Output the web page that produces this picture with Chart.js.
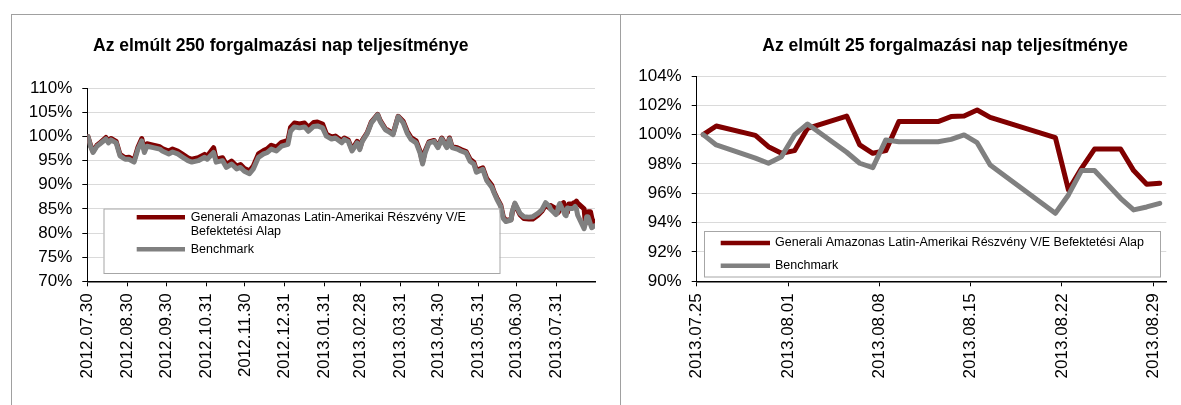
<!DOCTYPE html>
<html>
<head>
<meta charset="utf-8">
<script src="https://cdn.jsdelivr.net/npm/chart.js@4.4.1/dist/chart.umd.min.js"></script>
<style>
  html, body { margin: 0; padding: 0; background: #fff; }
  body { width: 1181px; height: 405px; position: relative; overflow: hidden; }
  .panel { position: absolute; top: 14px; height: 400px; border-top: 1px solid #a0a0a0; border-left: 1px solid #a0a0a0; }
  canvas { position: absolute; top: 15px; }
</style>
</head>
<body>
<div class="panel" style="left:11px; width:609px;"></div>
<div class="panel" style="left:620px; width:600px;"></div>
<canvas id="chart250" width="607" height="390" style="left:12px;"></canvas>
<canvas id="chart25" width="560" height="390" style="left:621px;"></canvas>
<script>
// --- data: last 250 trading days (value in %, start = 100%) ---
const leftDates = [
  '2012.07.30','2012.08.01','2012.08.03','2012.08.06','2012.08.08','2012.08.13','2012.08.15','2012.08.17','2012.08.21','2012.08.24',
  '2012.08.28','2012.08.31','2012.09.04','2012.09.07','2012.09.10','2012.09.12','2012.09.14','2012.09.19','2012.09.24','2012.09.26',
  '2012.10.01','2012.10.04','2012.10.08','2012.10.12','2012.10.16','2012.10.19','2012.10.24','2012.10.29','2012.10.31','2012.11.05',
  '2012.11.07','2012.11.12','2012.11.15','2012.11.19','2012.11.23','2012.11.26','2012.11.29','2012.12.03','2012.12.06','2012.12.10',
  '2012.12.14','2012.12.17','2012.12.20','2012.12.24','2012.12.28','2013.01.02','2013.01.04','2013.01.07','2013.01.11','2013.01.15',
  '2013.01.18','2013.01.22','2013.01.25','2013.01.29','2013.02.01','2013.02.05','2013.02.08','2013.02.13','2013.02.15','2013.02.18',
  '2013.02.21','2013.02.25','2013.02.27','2013.03.01','2013.03.05','2013.03.08','2013.03.13','2013.03.15','2013.03.19','2013.03.21',
  '2013.03.25','2013.03.29','2013.04.02','2013.04.05','2013.04.08','2013.04.12','2013.04.15','2013.04.17','2013.04.19','2013.04.22',
  '2013.04.26','2013.04.29','2013.05.02','2013.05.06','2013.05.08','2013.05.10','2013.05.14','2013.05.17','2013.05.21','2013.05.24',
  '2013.05.27','2013.05.29','2013.06.03','2013.06.06','2013.06.10','2013.06.12','2013.06.14','2013.06.17','2013.06.19','2013.06.21',
  '2013.06.25','2013.06.26','2013.06.28','2013.07.02','2013.07.05','2013.07.09','2013.07.12','2013.07.16','2013.07.19','2013.07.22',
  '2013.07.25','2013.07.26','2013.07.29','2013.07.30','2013.07.31','2013.08.01','2013.08.02','2013.08.05','2013.08.06','2013.08.07',
  '2013.08.08','2013.08.09','2013.08.12','2013.08.13','2013.08.14','2013.08.15','2013.08.16','2013.08.21','2013.08.22','2013.08.23',
  '2013.08.24','2013.08.26','2013.08.27','2013.08.28','2013.08.29'
];
const leftFund = [
  100.0, 98.2, 96.9, 98.2, 98.6, 99.8, 99.0, 99.6, 99.0, 96.3,
  95.6, 95.7, 95.1, 97.8, 99.6, 97.2, 98.5, 98.2, 97.9, 97.5,
  97.0, 97.4, 97.0, 96.3, 95.6, 95.3, 95.6, 96.3, 95.9, 97.7,
  95.3, 95.6, 94.2, 94.9, 93.9, 94.2, 93.4, 92.9, 93.9, 96.4,
  97.1, 97.5, 98.2, 97.8, 98.8, 99.2, 101.9, 102.8, 102.6, 102.8,
  101.9, 102.9, 103.0, 102.6, 100.5, 99.9, 100.1, 99.1, 99.7, 99.3,
  97.3, 99.0, 97.6, 99.2, 100.9, 103.0, 104.6, 103.3, 101.6, 101.3,
  100.6, 104.2, 103.1, 101.1, 99.8, 99.1, 97.0, 94.7, 97.0, 98.9,
  99.2, 97.9, 99.7, 97.9, 99.7, 97.9, 97.7, 97.3, 96.9, 95.3,
  94.7, 93.0, 93.5, 91.3, 89.9, 88.4, 87.3, 85.8, 83.3, 82.6,
  82.8, 84.3, 86.0, 83.8, 83.0, 82.9, 82.9, 83.7, 84.5, 85.8,
  85.2, 85.7, 85.2, 84.5, 84.1, 84.3, 85.6, 86.3, 84.6, 84.1,
  84.3, 86.0, 86.0, 86.3, 86.3, 86.6, 86.2, 85.0, 82.0, 83.2,
  84.4, 84.4, 83.1, 82.3, 82.4
];
const leftBench = [
  100.0, 98.0, 96.7, 98.0, 98.4, 99.5, 98.7, 99.3, 98.7, 96.0,
  95.3, 95.3, 94.7, 97.4, 99.1, 96.7, 98.0, 97.7, 97.4, 97.0,
  96.4, 96.8, 96.4, 95.7, 95.0, 94.7, 95.0, 95.7, 95.3, 96.7,
  94.7, 95.0, 93.6, 94.3, 93.3, 93.6, 92.8, 92.3, 93.3, 95.7,
  96.4, 96.7, 97.4, 97.0, 98.0, 98.4, 101.1, 102.0, 101.8, 102.0,
  101.1, 102.1, 102.2, 101.8, 100.1, 99.5, 99.7, 98.7, 99.4, 99.0,
  97.0, 98.7, 97.3, 99.0, 100.7, 102.8, 104.5, 103.1, 101.4, 101.1,
  100.4, 104.1, 102.8, 100.7, 99.4, 98.7, 96.6, 94.3, 96.6, 98.7,
  99.0, 97.7, 99.5, 97.7, 99.5, 97.7, 97.4, 97.0, 96.6, 94.9,
  94.3, 92.6, 93.2, 90.9, 89.5, 88.2, 87.0, 85.5, 83.0, 82.4,
  82.7, 84.5, 86.2, 84.1, 83.4, 83.3, 83.4, 84.1, 84.8, 86.3,
  85.5, 84.9, 84.1, 83.8, 84.2, 85.5, 86.1, 84.5, 83.8, 83.6,
  85.2, 85.1, 85.1, 85.2, 85.5, 85.0, 83.7, 80.9, 82.0, 83.4,
  83.4, 81.8, 81.1, 81.3, 81.5
];
const leftTicks = ['2012.07.30','2012.08.30','2012.09.30','2012.10.31','2012.11.30','2012.12.31',
  '2013.01.31','2013.02.28','2013.03.31','2013.04.30','2013.05.31','2013.06.30','2013.07.31'];

// --- data: last 25 trading days ---
const rightDates = ['2013.07.25','2013.07.26','2013.07.29','2013.07.30','2013.07.31','2013.08.01','2013.08.02',
  '2013.08.05','2013.08.06','2013.08.07','2013.08.08','2013.08.09','2013.08.12','2013.08.13','2013.08.14',
  '2013.08.15','2013.08.16','2013.08.21','2013.08.22','2013.08.23','2013.08.24','2013.08.26','2013.08.27',
  '2013.08.28','2013.08.29'];
const rightFund = [100.0, 100.59, 99.95, 99.18, 98.73, 98.91, 100.43, 101.27, 99.3, 98.73, 98.91, 100.89, 100.89,
  101.23, 101.27, 101.68, 101.18, 99.8, 96.23, 97.7, 99.02, 99.02, 97.55, 96.62, 96.69];
const rightBench = [100.0, 99.3, 98.4, 98.05, 98.5, 99.98, 100.73, 98.8, 98.05, 97.75, 99.64, 99.52, 99.52,
  99.68, 99.98, 99.45, 97.93, 94.64, 95.89, 97.55, 97.55, 95.66, 94.87, 95.07, 95.32];
const rightTicks = ['2013.07.25','2013.08.01','2013.08.08','2013.08.15','2013.08.22','2013.08.29'];

const axisEnd = '2013.08.30';
const fundName = 'Generali Amazonas Latin-Amerikai Részvény V/E Befektetési Alap';
const benchName = 'Benchmark';

const FONT = '"Liberation Sans", Arial, sans-serif';

function dayOf(s, base) {
  const [y, m, d] = s.split('.').map(Number);
  const [by, bm, bd] = base.split('.').map(Number);
  return (Date.UTC(y, m - 1, d) - Date.UTC(by, bm - 1, bd)) / 864e5;
}

// title + boxed legend drawn on top of the chart
const panelText = {
  id: 'panelText',
  afterDraw(chart, args, o) {
    const ctx = chart.ctx;
    ctx.save();
    ctx.fillStyle = '#000';
    ctx.font = 'bold 17.5px ' + FONT;
    ctx.textBaseline = 'alphabetic';
    ctx.textAlign = 'left';
    ctx.fillText(o.title, o.titleX, o.titleY);

    const b = o.box;
    ctx.fillStyle = '#fff';
    ctx.fillRect(b.x, b.y, b.w, b.h);
    ctx.strokeStyle = '#a6a6a6';
    ctx.lineWidth = 1;
    ctx.strokeRect(b.x + 0.5, b.y + 0.5, b.w, b.h);

    ctx.font = '12.5px ' + FONT;
    ctx.textBaseline = 'middle';
    const maxW = b.x + b.w - o.textX - 6;
    chart.data.datasets.forEach((ds, i) => {
      const y = o.rows[i];
      ctx.strokeStyle = ds.borderColor;
      ctx.lineWidth = 4.5;
      ctx.lineCap = 'butt';
      ctx.beginPath();
      ctx.moveTo(o.sample[0], y);
      ctx.lineTo(o.sample[1], y);
      ctx.stroke();
      // simple word wrap
      const words = ds.label.split(' ');
      const lines = [];
      let cur = '';
      words.forEach(w => {
        const t = cur ? cur + ' ' + w : w;
        if (cur && ctx.measureText(t).width > maxW) { lines.push(cur); cur = w; } else { cur = t; }
      });
      lines.push(cur);
      ctx.fillStyle = '#000';
      lines.forEach((ln, k) => ctx.fillText(ln, o.textX, y + k * o.lineGap));
    });
    ctx.restore();
  }
};

function makeChart(id, dates, fund, bench, ticks, yMin, yMax, yStep, area, text) {
  const base = ticks[0];
  const tickDays = ticks.map(t => dayOf(t, base));
  const pts = vals => dates.map((d, i) => ({ x: dayOf(d, base) + 0.5, y: vals[i] }));
  const canvas = document.getElementById(id);
  return new Chart(canvas.getContext('2d'), {
    type: 'line',
    data: {
      datasets: [{
        label: fundName,
        data: pts(fund),
        borderColor: '#800000',
        borderWidth: 5,
        pointRadius: 0,
        tension: 0,
        borderJoinStyle: 'round',
        borderCapStyle: 'round',
        order: 2
      }, {
        label: benchName,
        data: pts(bench),
        borderColor: '#808080',
        borderWidth: 5,
        pointRadius: 0,
        tension: 0,
        borderJoinStyle: 'round',
        borderCapStyle: 'round',
        order: 1
      }]
    },
    options: {
      responsive: false,
      animation: false,
      devicePixelRatio: 1,
      layout: { padding: { top: area.top, right: canvas.width - area.right, left: 0, bottom: 0 } },
      plugins: {
        legend: { display: false },
        title: { display: false },
        tooltip: { enabled: false },
        panelText: text
      },
      scales: {
        x: {
          type: 'linear',
          min: 0,
          max: dayOf(axisEnd, base),
          afterBuildTicks: s => { s.ticks = tickDays.map(v => ({ value: v })); },
          afterFit: s => { s.height = canvas.height - area.bottom; },
          ticks: {
            autoSkip: false,
            minRotation: 90,
            maxRotation: 90,
            padding: 7,
            color: '#000',
            font: { family: FONT, size: 17 },
            callback: (v, i) => ticks[i]
          },
          grid: { drawOnChartArea: false, tickLength: 5, tickColor: '#000', color: '#000' },
          border: { color: '#000', width: 1.5 }
        },
        y: {
          min: yMin,
          max: yMax,
          afterFit: s => { s.width = area.left; },
          ticks: {
            stepSize: yStep,
            padding: 10,
            color: '#000',
            font: { family: FONT, size: 17 },
            callback: v => v + '%'
          },
          grid: { color: '#dadada', lineWidth: 1, tickLength: 5, tickColor: '#000' },
          border: { color: '#000', width: 1 }
        }
      }
    },
    plugins: [panelText]
  });
}

makeChart('chart250', leftDates, leftFund, leftBench, leftTicks, 70, 110, 5,
  { left: 75.3, right: 583, top: 73.3, bottom: 266.3 },
  {
    title: 'Az elmúlt 250 forgalmazási nap teljesítménye', titleX: 81, titleY: 35.7,
    box: { x: 91.5, y: 193.5, w: 396, h: 64.5 },
    sample: [124.7, 173], textX: 178.7, rows: [202.3, 234.3], lineGap: 14.7
  });

makeChart('chart25', rightDates, rightFund, rightBench, rightTicks, 90, 104, 2,
  { left: 75.7, right: 546, top: 61, bottom: 266.3 },
  {
    title: 'Az elmúlt 25 forgalmazási nap teljesítménye', titleX: 141.3, titleY: 35.7,
    box: { x: 83, y: 216, w: 456, h: 45.5 },
    sample: [99.7, 149], textX: 154, rows: [228, 250.7], lineGap: 14.7
  });
</script>
</body>
</html>
